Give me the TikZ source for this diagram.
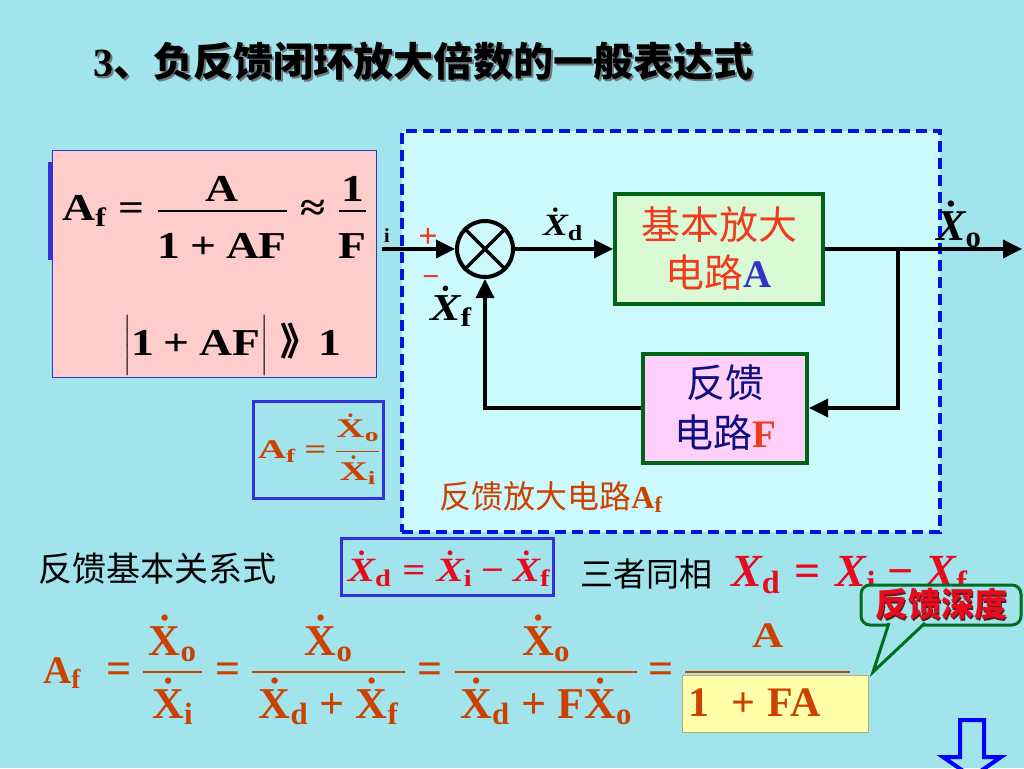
\RequirePackage{fix-cm}
\documentclass[tikz,border=0pt]{standalone}
\usepackage{amsmath}
\usepackage{fontspec}
\setmainfont{Liberation Serif}
\newfontfamily\cjk{Noto Sans CJK SC}
\newfontfamily\serifwide[FakeStretch=1.2]{Liberation Serif}
\newfontfamily\serifwider[FakeStretch=1.45]{Liberation Serif}
\usetikzlibrary{arrows.meta}
\definecolor{slidebg}{RGB}{162,228,236}
\definecolor{innerbg}{RGB}{204,250,252}
\definecolor{dashblue}{RGB}{0,20,225}
\definecolor{pinkfill}{RGB}{255,204,204}
\definecolor{frameblue}{RGB}{50,50,215}
\definecolor{blockedge}{RGB}{0,100,20}
\definecolor{ampfill}{RGB}{218,250,214}
\definecolor{fbkfill}{RGB}{255,208,250}
\definecolor{ampred}{RGB}{240,60,30}
\definecolor{ablue}{RGB}{50,50,200}
\definecolor{navytext}{RGB}{15,15,130}
\definecolor{eqbrown}{RGB}{204,64,0}
\definecolor{signred}{RGB}{232,10,30}
\definecolor{yfill}{RGB}{255,255,170}
\definecolor{yedge}{RGB}{180,180,120}
\definecolor{callgreen}{RGB}{0,110,30}
\definecolor{shadowgray}{RGB}{110,120,125}
\definecolor{shadowdark}{RGB}{90,30,30}
\definecolor{arrowblue}{RGB}{0,0,255}
\setlength{\fboxsep}{6pt}
\setlength{\fboxrule}{1.2pt}
\newcommand{\shadowed}[2][shadowgray]{\makebox[0pt][l]{\kern1.8pt\raisebox{-1.8pt}{\textcolor{#1}{#2}}}#2}
\newcommand{\eqs}{\mathrel{\text{=}}}
\newcommand{\pls}{\mathbin{\text{+}}}
\newcommand{\mns}{\mathbin{\text{−}}}
\newcommand{\apx}{\mathrel{\text{≈}}}
\newcommand{\dX}[1]{\dot{\text{X}}_{\text{#1}}}
\newcommand{\dXit}[1]{\dot{\text{\itshape X}}_{\text{\upshape #1}}}
\newcommand{\Xit}[1]{\text{\itshape X}_{\text{\upshape #1}}}
\newcommand{\bfr}[3][2pt]{\genfrac{}{}{#1}{0}{#2}{#3}}
% width, numerator raise, numerator, denominator raise, denominator
\newcommand{\mfrac}[5]{\makebox[#1pt][l]{\rlap{\raisebox{#2pt}{\makebox[#1pt]{#3}}}%
  \rlap{\raisebox{#4pt}{\makebox[#1pt]{#5}}}\raisebox{10pt}{\rule{#1pt}{2pt}}}}
\tikzset{
  arr/.style={-{Triangle[length=19pt,width=18pt]}, line width=3.5pt},
  ampbox/.style={rectangle, draw=blockedge, line width=4pt, fill=ampfill, minimum width=208pt,
                 minimum height=110pt, align=center, text=ampred, font=\fontsize{39}{48}\cjk},
  fbkbox/.style={rectangle, draw=blockedge, line width=4pt, fill=fbkfill, minimum width=164pt,
                 minimum height=109pt, align=center, text=navytext, font=\fontsize{39}{50}\cjk},
  sumnode/.style={circle, draw, line width=4pt, minimum size=56pt, inner sep=0pt},
  sig/.style={font=\fontsize{#1}{#1}\serifwide\bfseries\boldmath, inner sep=0pt},
  sig/.default=30,
  sigplain/.style={font=\fontsize{#1}{#1}\selectfont\bfseries\boldmath, inner sep=0pt},
  note/.style={font=\fontsize{#1}{#1}\cjk, inner sep=0pt},
  note/.default=34,
  eqn/.style={font=\fontsize{#1}{#1}\selectfont\bfseries\boldmath, inner sep=0pt, text=eqbrown},
  blueframe/.style={rectangle, draw=frameblue, line width=3pt, inner sep=0pt}
}
\begin{document}
\begin{tikzpicture}[x=1pt,y=-1pt]
\useasboundingbox (0,0) rectangle (1024,768);
\clip (0,0) rectangle (1024,768);
\fill[slidebg] (0,0) rectangle (1024,768);
% title
\node[anchor=west, inner sep=0pt, font=\fontsize{40}{44}\selectfont\bfseries] (title) at (93,62)
  {\shadowed{3{\cjk 、负反馈闭环放大倍数的一般表达式}}};
% pink panel with the approximation
\node[rectangle, draw=frameblue, line width=1.2pt, fill=pinkfill, minimum width=324pt, minimum height=227pt] (gainbox) at (214.5,264) {};
\draw[line width=5pt, frameblue] (50.5,162) -- (50.5,260);
\node[sig=38, anchor=base] (gainexact) at (215,220.5)
  {$\text{A}_{\text{f}} \eqs \bfr{\raisebox{-9pt}{A}}{\rule{0pt}{40pt}\text{1}\pls\text{AF}} \apx \bfr{\raisebox{-9pt}{1}}{\rule{0pt}{40pt}\text{F}}$};
\node[sig=38, anchor=base] (gaincond) at (232,355)
  {$\left|\rule[-15pt]{0pt}{52pt}\text{1}\pls\text{AF}\right|$ {\cjk 》}1};
% definition box
\node[blueframe, minimum width=130pt, minimum height=97pt] (defbox) at (318.5,450) {};
\node[anchor=base, inner sep=0pt, text=eqbrown, font=\fontsize{27}{27}\serifwider\bfseries\boldmath] (defeq) at (319,458)
  {$\text{A}_{\text{f}} \eqs \bfr[1.4pt]{\dX{o}}{\dX{i}}$};
% feedback amplifier
\node[rectangle, draw=dashblue, line width=3.5pt, dash pattern=on 11pt off 6pt, fill=innerbg,
      minimum width=538pt, minimum height=401pt] (afbox) at (671,331.5) {};
\node[sumnode] (sum) at (485,249) {};
\draw[line width=3.5pt] (sum.north west) -- (sum.south east) (sum.north east) -- (sum.south west);
\node[ampbox] (amp) at (719,249) {基本放大\\电路\textcolor{ablue}{\rmfamily\bfseries A}};
\node[fbkbox] (fbk) at (725,408) {反馈\\电路\textcolor{ampred}{\rmfamily\bfseries F}};
\coordinate (in) at (382,249);
\coordinate (out) at (1022,249);
\coordinate (tap) at (898,249);
\draw[arr] (in) -- (sum.west);
\draw[arr] (sum.east) -- (amp.west);
\draw[arr] (amp.east) -- (out);
\draw[arr] (tap) |- (fbk.east);
\draw[arr] (fbk.west) -| (sum.south);
\node[sigplain=20] (inlbl) at (387,236) {i};
\node[sigplain=34, text=ampred] (plus) at (428,238) {+};
\node[sigplain=30, text=ampred] (minus) at (431,281) {−};
\node[sig=31] (xd) at (563,224) {$\dXit{d}$};
\node[sig=38] (xf) at (451,306) {$\dXit{f}$};
\node[sigplain=44] (xo) at (959,224) {$\dXit{o}$};
\node[note=32, text=eqbrown] (aflbl) at (551,497) {反馈放大电路{\rmfamily\bfseries A\textsubscript{f}}};
% basic relation
\node[note=34] (rellbl) at (157,569) {反馈基本关系式};
\node[blueframe, minimum width=212pt, minimum height=57pt] (relbox) at (447.5,567) {};
\node[sig=34, text=signred] (releq) at (449,569) {$\dXit{d} \eqs \dXit{i} \mns \dXit{f}$};
\node[note=33] (phaselbl) at (646,574) {三者同相};
\node[sigplain=46, text=signred, anchor=west] (phaseeq) at (731,575) {$\Xit{d} \eqs \Xit{i} \mns \Xit{f}$};
% callout
\node[rectangle, rounded corners=9pt, draw=callgreen, line width=3pt, fill=slidebg, minimum width=160pt,
      minimum height=40pt, inner sep=0pt, text=signred, font=\fontsize{33}{33}\cjk\bfseries] (depth) at (941,605)
  {\shadowed[shadowdark]{反馈深度}};
\coordinate (tip) at (873,672);
\coordinate (ptl) at (889,623);
\coordinate (ptr) at (925,623);
\filldraw[fill=slidebg, draw=callgreen, line width=3pt, line join=miter] (ptl) -- (tip) -- (ptr);
% closed-loop gain derivation
\node[eqn=44, anchor=base west] (loopeq) at (43,683)
  {\makebox[47pt][l]{\fontsize{39}{39}\selectfont$\text{A}_{\text{f}}$}\hspace{17pt}\makebox[23pt]{=}\hspace{13pt}%
   \mfrac{59}{28}{$\dX{o}$}{-35}{$\dX{i}$}\hspace{13pt}\makebox[25pt]{=}\hspace{12pt}%
   \mfrac{153}{28}{$\dX{o}$}{-35}{$\dX{d}\pls\dX{f}$}\hspace{12pt}\makebox[26pt]{=}\hspace{12pt}%
   \mfrac{182}{28}{$\dX{o}$}{-35}{$\dX{d}\pls\text{F}\dX{o}$}\hspace{11pt}\makebox[25pt]{=}\hspace{12pt}%
   \mfrac{165}{36}{\fontsize{36}{36}\serifwide\bfseries A}{-33}{\hspace*{15pt}\fcolorbox{yedge}{yfill}{\makebox[173pt][l]{\fontsize{42}{42}\rmfamily\bfseries\rule[-10pt]{0pt}{44pt}1\hspace{22pt}+\hspace{12pt}FA}}}};
% next-page arrow
\draw[line width=4pt, arrowblue, line join=miter] (960,720) -- (984,720) -- (984,757) -- (1001,757)
  -- (972,777) -- (943,757) -- (960,757) -- cycle;
\end{tikzpicture}
\end{document}
